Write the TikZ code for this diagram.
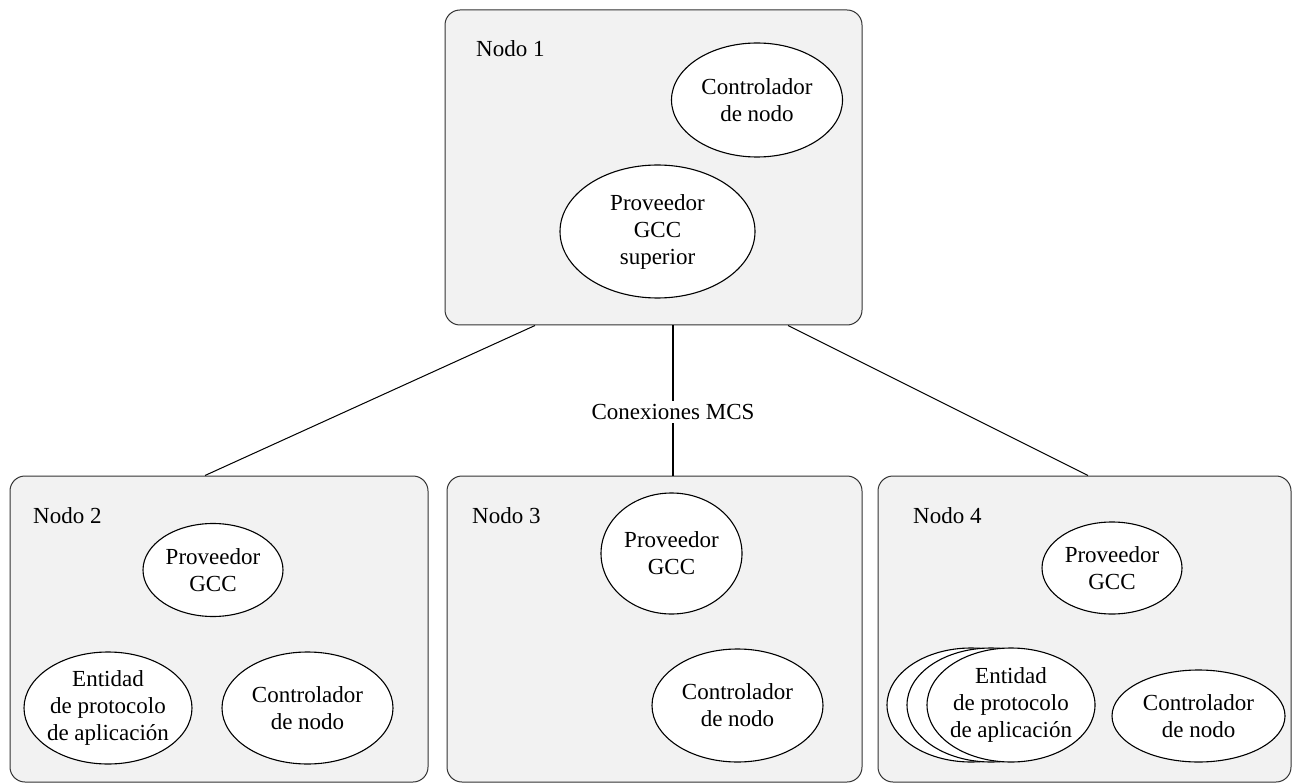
\documentclass[tikz,border=0pt]{standalone}
\usepackage{fontspec}
\setmainfont{Liberation Serif}
\usetikzlibrary{shapes.geometric}
\begin{document}
\begin{tikzpicture}[x=1pt,y=-1pt,
  every node/.style={font=\fontsize{23}{27}\selectfont},
  nodebox/.style={draw=black!80, line width=1pt, fill=black!5, rounded corners=15pt, inner sep=0pt},
  ell/.style={draw, ellipse, fill=white, line width=1.1pt, inner sep=0pt},
  etxt/.style={align=center, inner sep=0pt, fill=white},
  nlabel/.style={anchor=base west, inner sep=0pt},
  conn/.style={line width=1pt}]
\useasboundingbox (0,0) rectangle (1292,783);
% boxes
\node[nodebox, minimum width=417pt, minimum height=315pt] (n1) at (653.5,167.5) {};
\node[nodebox, minimum width=418pt, minimum height=306pt] (n2) at (219,629) {};
\node[nodebox, minimum width=415pt, minimum height=306pt] (n3) at (654.5,629) {};
\node[nodebox, minimum width=413pt, minimum height=306pt] (n4) at (1084.5,629) {};
% labels
\node[nlabel] (l1) at (476,57) {Nodo 1};
\node[nlabel] (l2) at (33,523) {Nodo 2};
\node[nlabel] (l3) at (472,523) {Nodo 3};
\node[nlabel] (l4) at (913,523) {Nodo 4};
% Nodo 1
\node[ell, minimum width=171pt, minimum height=114pt] (c1) at (757,100) {};
\node[etxt] (c1t) at (c1) {Controlador\\de nodo};
\node[ell, minimum width=195pt, minimum height=133pt] (p1) at (657.5,231.5) {};
\node[etxt] (p1t) at (p1) {Proveedor\\GCC\\superior};
% Nodo 2
\node[ell, minimum width=140pt, minimum height=93pt] (p2) at (213,570) {};
\node[etxt] (p2t) at (p2) {Proveedor\\GCC};
\node[ell, minimum width=168pt, minimum height=112pt] (e2) at (108,708) {};
\node[etxt] (e2t) at (e2) {Entidad\\de protocolo\\de aplicación};
\node[ell, minimum width=171pt, minimum height=112pt] (c2) at (307.5,708) {};
\node[etxt] (c2t) at (c2) {Controlador\\de nodo};
% Nodo 3
\node[ell, minimum width=141pt, minimum height=121pt] (p3) at (671.5,553.5) {};
\node[etxt] (p3t) at (p3) {Proveedor\\GCC};
\node[ell, minimum width=171pt, minimum height=113pt] (c3) at (737.5,705.5) {};
\node[etxt] (c3t) at (c3) {Controlador\\de nodo};
% Nodo 4
\node[ell, minimum width=140pt, minimum height=92pt] (p4) at (1112,568) {};
\node[etxt] (p4t) at (p4) {Proveedor\\GCC};
\node[ell, minimum width=168pt, minimum height=114pt] (e4c) at (971,705) {};
\node[ell, minimum width=168pt, minimum height=114pt] (e4b) at (991,705) {};
\node[ell, minimum width=168pt, minimum height=114pt] (e4a) at (1011,705) {};
\node[etxt] (e4t) at (e4a) {Entidad\\de protocolo\\de aplicación};
\node[ell, minimum width=173pt, minimum height=92pt] (c4) at (1198.5,716) {};
\node[etxt] (c4t) at (c4) {Controlador\\de nodo};
% connectors
\draw[conn] ([xshift=-118.5pt]n1.south) -- ([xshift=-14pt]n2.north);
\draw[conn, line width=2pt] ([xshift=19.5pt]n1.south) -- node[pos=0.576, fill=white, inner sep=3pt] (mcs) {Conexiones MCS} ([xshift=18.5pt]n3.north);
\draw[conn] ([xshift=134.5pt]n1.south) -- ([xshift=3.5pt]n4.north);
\end{tikzpicture}
\end{document}
